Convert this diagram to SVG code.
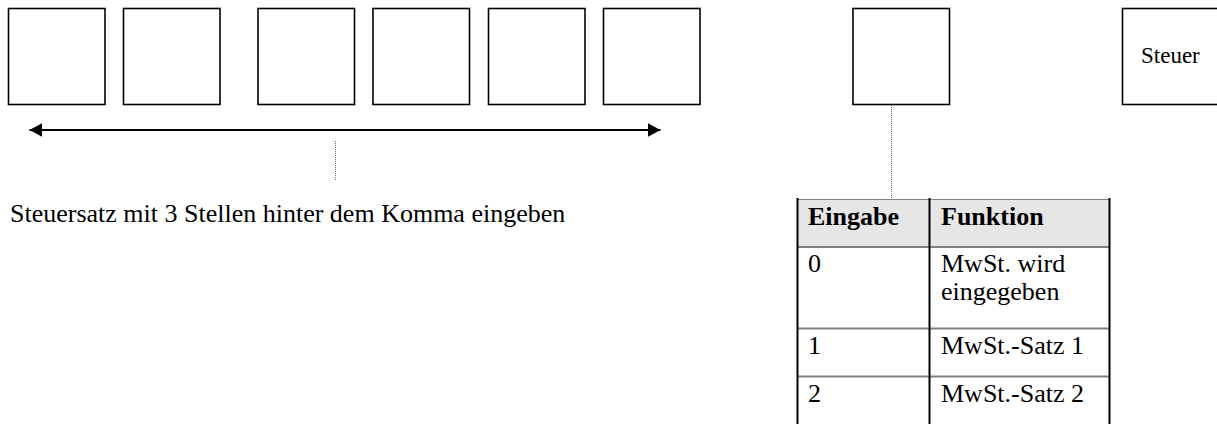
<svg xmlns="http://www.w3.org/2000/svg" width="1217" height="424" viewBox="0 0 1217 424">
<style>
.box{fill:#fff;stroke:#000;stroke-width:1.6}
.txt{font-family:"Liberation Serif","Times New Roman",serif;font-size:26px;fill:#000}
.bold{font-weight:bold}
.dot{stroke:#666;stroke-width:1;stroke-dasharray:1 1;fill:none}
.hgrid{stroke:#808080;stroke-width:2}
.vgrid{stroke:#000;stroke-width:2}
</style>
<defs>
<marker id="ah" markerUnits="userSpaceOnUse" markerWidth="13" markerHeight="14" refX="12.5" refY="6.75" orient="auto-start-reverse">
<path d="M0,0 L12.5,6.75 L0,13.5 Z" fill="#000"/>
</marker>
</defs>
<rect width="1217" height="424" fill="#fff"/>
<g id="box1"><rect class="box" x="8.5" y="8.5" width="96.5" height="96"/></g>
<g id="box2"><rect class="box" x="123.5" y="8.5" width="96.5" height="96"/></g>
<g id="box3"><rect class="box" x="258" y="8.5" width="96.5" height="96"/></g>
<g id="box4"><rect class="box" x="373" y="8.5" width="96.5" height="96"/></g>
<g id="box5"><rect class="box" x="488.5" y="8.5" width="96.5" height="96"/></g>
<g id="box6"><rect class="box" x="603.5" y="8.5" width="96.5" height="96"/></g>
<g id="box7"><rect class="box" x="853" y="8.5" width="96.5" height="96"/></g>
<g id="steuer"><rect class="box" x="1122.5" y="8.5" width="110" height="96"/><text class="txt" x="1141" y="63" style="font-size:23px">Steuer</text></g>
<g id="label"><text class="txt" x="10" y="222">Steuersatz mit 3 Stellen hinter dem Komma eingeben</text></g>
<g id="table">
<rect x="797.5" y="199.5" width="312" height="47.5" fill="#e6e6e6"/>
<line class="hgrid" x1="797.5" y1="199.5" x2="1110" y2="199.5" style="stroke-width:1"/>
<line class="hgrid" x1="797.5" y1="247" x2="1110" y2="247"/>
<line class="hgrid" x1="797.5" y1="328.5" x2="1110" y2="328.5"/>
<line class="hgrid" x1="797.5" y1="376.5" x2="1110" y2="376.5"/>
<line class="vgrid" x1="797.5" y1="198" x2="797.5" y2="424"/>
<line class="vgrid" x1="929.5" y1="198" x2="929.5" y2="424"/>
<line class="vgrid" x1="1109.5" y1="198" x2="1109.5" y2="424"/>
<text class="txt bold" x="808" y="225">Eingabe</text>
<text class="txt bold" x="941" y="225">Funktion</text>
<text class="txt" x="808" y="272">0</text>
<text class="txt" x="941" y="272">MwSt. wird</text>
<text class="txt" x="941" y="300">eingegeben</text>
<text class="txt" x="808" y="354">1</text>
<text class="txt" x="941" y="354">MwSt.-Satz 1</text>
<text class="txt" x="808" y="402">2</text>
<text class="txt" x="941" y="402">MwSt.-Satz 2</text>
</g>
<g id="connectors">
<line x1="29.5" y1="130" x2="660.5" y2="130" stroke="#000" stroke-width="2" marker-start="url(#ah)" marker-end="url(#ah)"/>
<line class="dot" x1="335.5" y1="141" x2="335.5" y2="181"/>
<line class="dot" x1="891.5" y1="105" x2="891.5" y2="199"/>
</g>
</svg>
